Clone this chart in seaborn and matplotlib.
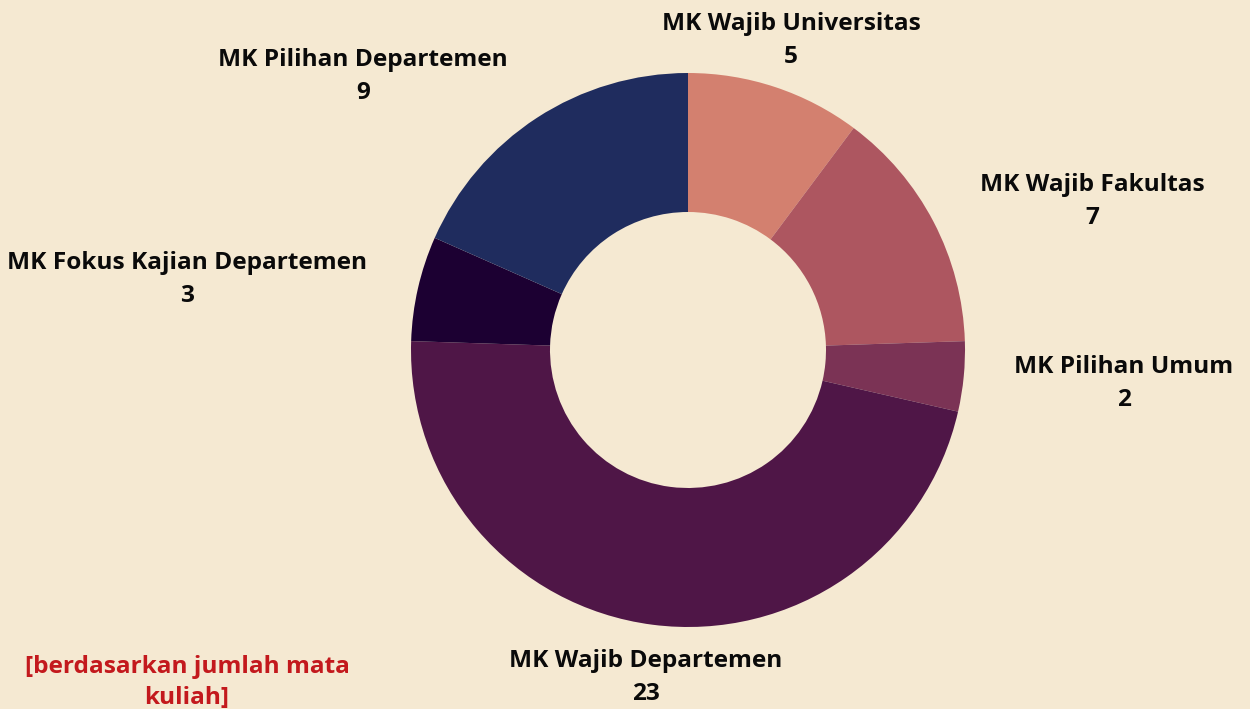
import seaborn as sns
import matplotlib.pyplot as plt

# data
categories = ['MK Wajib Universitas', 'MK Wajib Fakultas', 'MK Pilihan Umum',
              'MK Wajib Departemen', 'MK Fokus Kajian Departemen', 'MK Pilihan Departemen']
values = [5, 7, 2, 23, 3, 9]
colors = ['#D3806F', '#AD5660', '#7B3355', '#4F1647', '#1C0032', '#1F2C5E']

# label anchor points (pixels, y from top)
label_pos = [(791, 24), (1092, 185), (1124, 367), (646, 661), (187, 263), (363, 60)]

bg = '#F5E9D2'
sns.set_theme(style='white')
plt.rcParams['font.family'] = ['Open Sans', 'DejaVu Sans']

W, H = 1250, 709
fig = plt.figure(figsize=(12.5, 7.09), dpi=100, facecolor=bg)
ax = fig.add_axes([0, 0, 1, 1])
ax.set_facecolor(bg)

ax.pie(values, colors=sns.color_palette(colors), startangle=90, counterclock=False,
       center=(688, H - 350), radius=277,
       wedgeprops=dict(width=139, edgecolor='none'))

ax.set_xlim(0, W)
ax.set_ylim(0, H)
ax.set_aspect('equal')
ax.axis('off')

fs = 17.6
for name, val, (x, y) in zip(categories, values, label_pos):
    ax.text(x, H - y, name, ha='center', va='center', fontsize=fs,
            fontweight='bold', color='#0a0a0a')
    ax.text(x, H - y - 33, str(val), ha='center', va='center', fontsize=fs,
            fontweight='bold', color='#0a0a0a')

ax.text(187, H - 667, '[berdasarkan jumlah mata', ha='center', va='center',
        fontsize=fs, fontweight='bold', color='#C3191D')
ax.text(187, H - 698, 'kuliah]', ha='center', va='center',
        fontsize=fs, fontweight='bold', color='#C3191D')

fig.savefig('out.png', dpi=100, facecolor=bg)
